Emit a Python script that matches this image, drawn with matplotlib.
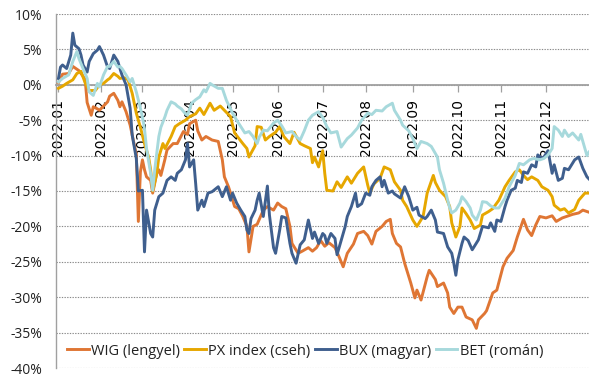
import numpy as np
import pandas as pd
import matplotlib
matplotlib.use('Agg')
import matplotlib.pyplot as plt

## trading-day calendar (x axis is per trading day) ##
DAYS = pd.bdate_range('2022-01-03', '2022-12-30')
month_labels = ['2022.01', '2022.02', '2022.03', '2022.04', '2022.05', '2022.06',
                '2022.07', '2022.08', '2022.09', '2022.10', '2022.11', '2022.12']

## index performance since start of year, % : (trading day, value) ##
wig = [(0, 0.3), (2, 1.5), (5, 1.6), (7, 2.6), (10, 2.0), (13, 0.8), (14, -2.5), (16, -4.3),
       (17, -3.1), (19, -3.4), (20, -3.6), (22, -3.0), (24, -2.4), (25, -1.6), (27, -1.2),
       (29, -2.2), (30, -3.1), (31, -2.4), (33, -3.8), (35, -5.7), (36, -7.1), (38, -9.8),
       (39, -19.3), (40, -12.3), (41, -10.6), (42, -12.0), (43, -13.0), (45, -13.5), (46, -15.3),
       (48, -12.5), (49, -12.0), (50, -12.8), (52, -10.5), (53, -9.2), (56, -8.3), (58, -8.3),
       (61, -6.6), (63, -7.0), (64, -5.5), (67, -5.0), (68, -6.5), (70, -7.8), (72, -7.3),
       (75, -7.8), (78, -8.0), (80, -10.6), (81, -13.0), (83, -14.4), (84, -15.3), (86, -17.2),
       (88, -17.5), (90, -18.6), (92, -20.0), (93, -23.6), (95, -20.0), (97, -19.7), (100, -17.7),
       (102, -17.2), (105, -17.7), (107, -16.7), (109, -17.2), (111, -17.5), (113, -20.0),
       (114, -22.4), (117, -23.8), (119, -23.5), (122, -23.0), (124, -23.5), (126, -23.0),
       (128, -22.0), (130, -22.8), (132, -22.3), (135, -23.0), (137, -24.3), (139, -25.7),
       (141, -23.8), (144, -22.5), (146, -21.0), (149, -20.7), (151, -21.3), (153, -22.5),
       (155, -20.7), (158, -20.0), (160, -19.3), (162, -19.0), (163, -21.0), (165, -22.4),
       (167, -22.9), (169, -25.2), (172, -28.0), (174, -30.1), (175, -29.0), (177, -30.4),
       (180, -27.1), (181, -26.2), (184, -27.5), (185, -28.5), (188, -28.0), (190, -29.4),
       (191, -31.4), (193, -32.3), (195, -31.4), (197, -31.4), (199, -32.8), (202, -33.2),
       (204, -34.4), (205, -33.2), (208, -32.3), (209, -31.9), (212, -29.4), (214, -29.0),
       (217, -25.7), (219, -24.5), (222, -23.4), (224, -21.5), (227, -19.0), (229, -20.5),
       (231, -21.3), (233, -19.8), (235, -18.6), (238, -18.8), (241, -18.5), (243, -19.3),
       (246, -18.8), (248, -18.6), (251, -18.3), (254, -18.1), (256, -17.7), (259, -18.0)]

px = [(0, -0.5), (2, -0.2), (4, 0.2), (7, 0.7), (9, 1.6), (11, 1.9), (13, 0.3), (15, -0.8),
      (18, -0.8), (20, 0.0), (22, 0.2), (24, 0.7), (25, 0.9), (27, 1.6), (29, 1.2), (30, 0.9),
      (32, 1.0), (34, 0.7), (36, -1.2), (38, -4.0), (40, -6.0), (42, -8.3), (44, -10.2),
      (45, -12.0), (46, -15.0), (48, -12.5), (49, -10.2), (51, -8.3), (52, -9.0), (55, -7.3),
      (57, -5.9), (59, -5.5), (62, -5.0), (64, -4.5), (67, -4.1), (69, -3.3), (71, -4.2),
      (74, -2.6), (76, -3.6), (79, -3.0), (81, -3.6), (84, -4.5), (86, -6.8), (90, -8.3),
      (92, -9.0), (93, -10.2), (96, -8.6), (97, -5.9), (99, -6.0), (101, -7.8), (103, -7.3),
      (106, -6.7), (108, -5.9), (110, -7.3), (113, -8.3), (115, -6.7), (118, -8.3), (120, -8.6),
      (123, -9.0), (124, -11.0), (125, -10.2), (127, -11.6), (129, -9.3), (130, -12.5),
      (131, -14.9), (134, -15.0), (136, -13.7), (138, -14.5), (141, -13.0), (143, -13.9),
      (146, -12.5), (149, -11.6), (151, -14.2), (152, -15.3), (154, -14.0), (157, -13.2),
      (159, -11.6), (162, -12.0), (164, -13.7), (167, -14.9), (168, -16.3), (170, -17.2),
      (173, -19.1), (175, -20.0), (178, -18.6), (180, -15.3), (183, -12.8), (184, -13.8),
      (186, -14.9), (189, -15.8), (191, -17.2), (192, -19.5), (194, -21.5), (196, -20.0),
      (197, -17.4), (199, -18.2), (201, -19.1), (203, -20.3), (206, -19.8), (207, -18.4),
      (210, -17.9), (212, -17.5), (215, -16.3), (218, -14.4), (220, -13.5), (223, -12.3),
      (225, -12.0), (227, -12.8), (229, -13.4), (231, -13.0), (234, -13.5), (236, -14.4),
      (239, -14.9), (241, -15.8), (242, -17.0), (245, -17.7), (247, -17.5), (249, -18.1),
      (252, -17.6), (254, -16.3), (257, -15.3), (259, -15.3)]

bux = [(0, 0.9), (1, 2.5), (2, 2.8), (4, 2.3), (6, 4.2), (7, 7.3), (8, 5.6), (10, 5.1),
       (11, 4.2), (12, 2.8), (14, 1.8), (15, 3.3), (17, 4.4), (19, 4.9), (20, 5.4), (22, 4.2),
       (24, 2.5), (25, 2.3), (27, 4.2), (29, 3.3), (30, 2.3), (31, 1.4), (33, 0.0), (35, -3.3),
       (36, -7.1), (38, -10.4), (39, -15.0), (41, -14.9), (42, -23.6), (43, -17.7), (45, -21.0),
       (46, -21.5), (47, -17.7), (49, -15.8), (51, -15.3), (52, -14.4), (53, -13.5), (55, -13.0),
       (57, -13.5), (58, -12.5), (60, -12.0), (62, -10.6), (63, -8.3), (64, -11.6), (66, -10.6),
       (67, -14.0), (68, -17.7), (70, -16.3), (71, -17.2), (73, -15.3), (75, -15.1), (78, -14.4),
       (80, -15.8), (82, -14.4), (84, -16.3), (85, -15.3), (87, -16.7), (89, -17.7), (91, -18.6),
       (92, -20.5), (93, -21.0), (94, -18.9), (96, -17.7), (97, -16.3), (98, -15.3), (100, -18.6),
       (102, -14.3), (103, -18.4), (105, -23.0), (106, -23.8), (108, -20.5), (109, -18.6),
       (111, -18.8), (113, -22.4), (114, -23.8), (116, -25.2), (118, -22.6), (120, -21.9),
       (122, -19.1), (124, -21.7), (125, -20.8), (127, -22.4), (129, -21.0), (130, -21.3),
       (131, -22.4), (133, -21.0), (135, -21.7), (136, -24.0), (138, -22.0), (140, -20.0),
       (141, -18.6), (143, -17.2), (145, -15.3), (146, -17.2), (148, -16.8), (150, -15.3),
       (152, -15.6), (153, -14.4), (155, -13.5), (157, -13.0), (158, -14.4), (159, -13.5),
       (161, -15.3), (163, -15.0), (164, -15.4), (167, -16.0), (169, -14.4), (171, -15.8),
       (173, -17.7), (175, -17.3), (176, -18.4), (179, -18.9), (180, -18.6), (182, -17.7),
       (184, -19.1), (185, -20.8), (188, -21.0), (190, -22.9), (192, -23.8), (193, -25.2),
       (194, -26.9), (195, -24.7), (197, -22.4), (198, -21.5), (200, -22.0), (202, -23.3),
       (205, -21.9), (207, -20.0), (210, -20.2), (211, -19.5), (213, -20.7), (214, -19.1),
       (216, -19.3), (218, -17.2), (219, -16.3), (221, -14.9), (223, -14.6), (224, -13.5),
       (226, -13.8), (227, -12.3), (229, -12.5), (231, -11.3), (233, -11.6), (234, -9.9),
       (236, -10.4), (237, -10.2), (239, -9.3), (241, -12.5), (242, -11.3), (244, -13.5),
       (246, -13.2), (247, -11.8), (249, -12.0), (252, -10.6), (254, -10.2), (256, -11.8),
       (258, -13.0), (259, -13.3)]

bet = [(0, 0.4), (2, 0.9), (5, 1.4), (7, 3.3), (9, 4.7), (10, 3.7), (12, 2.3), (14, 0.9),
       (15, -1.0), (17, -1.5), (19, 0.2), (20, -0.3), (22, 1.4), (24, 2.6), (25, 2.6), (27, 3.3),
       (29, 2.5), (30, 2.6), (31, 2.3), (33, 1.4), (35, 0.4), (36, 0.9), (38, -1.0), (40, -3.3),
       (41, -4.6), (42, -6.2), (43, -9.0), (45, -12.5), (46, -14.9), (47, -12.0), (49, -7.3),
       (50, -6.0), (52, -4.5), (53, -3.6), (55, -2.4), (57, -2.7), (58, -3.0), (60, -3.4),
       (62, -4.1), (63, -4.3), (65, -2.6), (67, -2.1), (69, -1.7), (71, -0.7), (72, -1.0),
       (74, 0.2), (75, 0.0), (78, -0.5), (80, -0.5), (82, -2.2), (85, -4.0), (87, -5.0),
       (89, -5.9), (91, -6.8), (93, -6.6), (95, -7.3), (97, -8.3), (98, -7.4), (100, -6.4),
       (102, -6.5), (105, -5.4), (107, -5.0), (109, -5.8), (111, -6.8), (114, -6.6), (116, -7.3),
       (118, -7.8), (120, -6.5), (122, -5.0), (124, -4.3), (127, -3.8), (129, -4.6), (131, -5.9),
       (133, -6.8), (136, -6.6), (138, -8.8), (141, -7.6), (143, -7.1), (146, -6.1), (148, -5.0),
       (151, -4.0), (153, -4.2), (155, -3.6), (158, -3.7), (160, -3.1), (163, -2.6), (164, -3.6),
       (167, -5.0), (168, -5.7), (171, -6.5), (173, -7.6), (175, -9.0), (177, -8.0), (180, -8.3),
       (182, -8.7), (185, -10.2), (186, -12.0), (188, -13.9), (190, -16.3), (191, -17.4),
       (192, -18.1), (194, -17.7), (196, -16.7), (197, -15.8), (199, -16.5), (201, -17.4),
       (202, -18.4), (204, -19.1), (206, -17.7), (207, -16.5), (209, -16.6), (211, -17.1),
       (213, -17.4), (215, -17.4), (218, -16.0), (220, -14.4), (223, -12.8), (225, -11.1),
       (227, -11.3), (230, -10.6), (232, -10.4), (235, -10.6), (237, -10.4), (239, -9.9),
       (241, -9.0), (242, -5.9), (244, -6.4), (246, -7.3), (247, -6.4), (249, -7.3), (251, -6.8),
       (254, -7.8), (255, -7.0), (258, -10.0), (259, -9.5)]

series = [('WIG (lengyel)', wig, '#DF7634'),
          ('PX index (cseh)', px, '#E6A700'),
          ('BUX (magyar)', bux, '#3F5F8E'),
          ('BET (román)', bet, '#A7D9DC')]

## figure ##
fig = plt.figure(figsize=(5.89, 3.77), dpi=100)
ax = fig.add_axes([56/589, 9/377, 533/589, 354/377])

for name, data, col in series:
    d, v = zip(*data)
    ax.plot(d, v, color=col, lw=2.1, label=name, zorder=3, solid_joinstyle='round')

ax.set_xlim(-1.2, 259)
ax.set_ylim(-40, 10)

## y axis ##
yt = np.arange(-40, 11, 5)
ax.set_yticks(yt)
ax.set_yticklabels([f'{t}%' for t in yt], family='Open Sans', fontsize=10, color='#222222')
ax.tick_params(axis='y', length=0, pad=10)
ax.yaxis.grid(True, color='#8a8a8a', lw=0.8, ls=(0, (1.2, 1.2)))
ax.set_axisbelow(True)

## x axis sits on the 0% line, labels turned upright ##
month_starts = [DAYS.get_indexer([DAYS[DAYS.month == m][0]])[0] for m in range(1, 13)]
ax.set_xticks(month_starts)
ax.set_xticklabels(month_labels, family='Liberation Sans', fontsize=10.5, color='#111111')
ax.tick_params(axis='x', length=5, width=0.9, color='#a0a0a0', pad=5, labelrotation=90)

for s in ['top', 'right']:
    ax.spines[s].set_visible(False)
ax.spines['bottom'].set_position(('data', 0))
ax.spines['bottom'].set_color('#a0a0a0')
ax.spines['bottom'].set_linewidth(1.3)
ax.spines['bottom'].set_zorder(2.5)
ax.spines['left'].set_color('#a0a0a0')
ax.spines['left'].set_linewidth(1.0)

leg = ax.legend(loc='center', bbox_to_anchor=(0.467, 0.048), ncol=4, frameon=False,
                prop={'family': 'Open Sans', 'size': 10.5}, handlelength=1.5,
                handletextpad=0.15, columnspacing=0.3, borderaxespad=0)
for t in leg.get_texts():
    t.set_color('#222222')

plt.savefig('out.png', dpi=100)
